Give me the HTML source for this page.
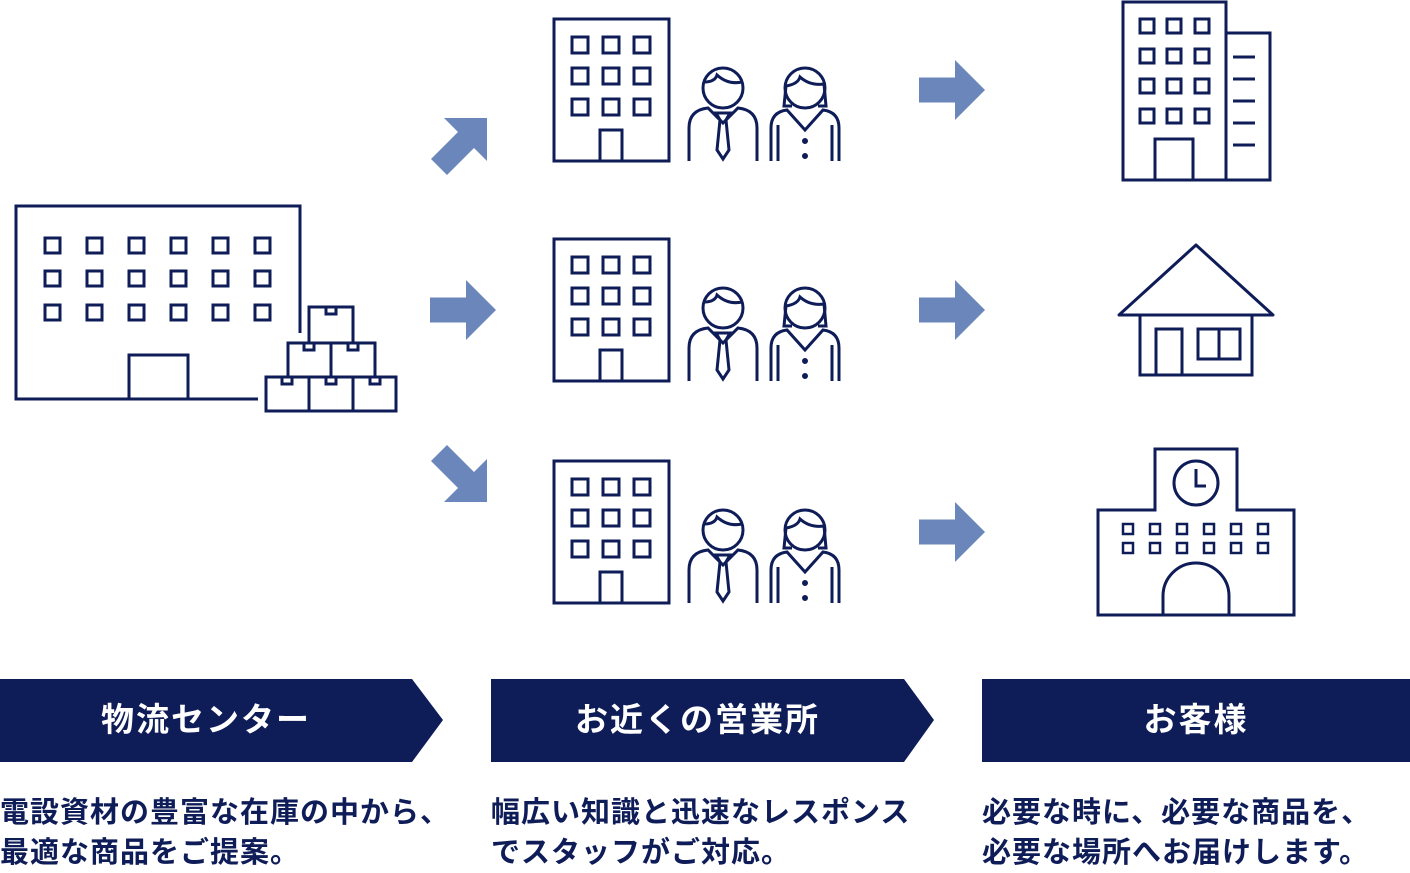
<!DOCTYPE html>
<html><head><meta charset="utf-8"><style>
html,body{margin:0;padding:0;background:#fff;}
body{width:1410px;height:868px;position:relative;overflow:hidden;font-family:"Liberation Sans","Noto Sans CJK JP",sans-serif;}
.cap{position:absolute;top:793px;font-size:29px;line-height:40px;color:#0e1c58;letter-spacing:1px;white-space:nowrap;font-weight:bold;}
.bt{position:absolute;top:698px;height:44px;line-height:44px;color:#fff;font-size:33px;text-align:center;letter-spacing:2px;font-weight:bold;}
</style></head><body>
<svg width="1410" height="868" style="position:absolute;left:0;top:0">
<defs>
<g id="office" fill="none" stroke="#0e1c58" stroke-width="3">
<rect x="554" y="19" width="115" height="142"/>
<rect x="572" y="37" width="16" height="16"/><rect x="603" y="37" width="16" height="16"/><rect x="634" y="37" width="16" height="16"/>
<rect x="572" y="68" width="16" height="16"/><rect x="603" y="68" width="16" height="16"/><rect x="634" y="68" width="16" height="16"/>
<rect x="572" y="99" width="16" height="16"/><rect x="603" y="99" width="16" height="16"/><rect x="634" y="99" width="16" height="16"/>
<rect x="600" y="130" width="22" height="31"/>
<circle cx="723" cy="88" r="20"/>
<path d="M704 82 Q715 82 717 75 Q728 85 742 82"/>
<path d="M689 161 V128 Q689 110 708 108 L723 123 L738 108 Q757 110 757 128 V161"/>
<path d="M716 113 H730 L726 120 L729 150 L723 159 L717 150 L720 120 Z"/>
<circle cx="805" cy="88" r="20"/>
<path d="M786 86 Q798 84 800 77 Q810 86 824 84 M786 86 L784 106 H792 M824 84 L826 106 H818"/>
<path d="M771 161 V128 Q771 112 787 110 L805 130 L823 110 Q839 112 839 128 V161"/>
<path d="M778 125 V161 M832 125 V161"/>
<circle cx="805" cy="141" r="1.5" fill="#0e1c58"/><circle cx="805" cy="156" r="1.5" fill="#0e1c58"/>
</g>
<polygon id="ar" points="0,-12.5 36,-12.5 36,-30 66,0 36,30 36,12.5 0,12.5" fill="#6a86ba"/>
</defs>
<g fill="none" stroke="#0e1c58" stroke-width="3">
<path d="M258 399 H16 V206 H300 V333"/>
<g>
<rect x="45" y="238" width="15" height="15"/><rect x="87" y="238" width="15" height="15"/><rect x="129" y="238" width="15" height="15"/><rect x="171" y="238" width="15" height="15"/><rect x="213" y="238" width="15" height="15"/><rect x="255" y="238" width="15" height="15"/>
<rect x="45" y="271" width="15" height="15"/><rect x="87" y="271" width="15" height="15"/><rect x="129" y="271" width="15" height="15"/><rect x="171" y="271" width="15" height="15"/><rect x="213" y="271" width="15" height="15"/><rect x="255" y="271" width="15" height="15"/>
<rect x="45" y="305" width="15" height="15"/><rect x="87" y="305" width="15" height="15"/><rect x="129" y="305" width="15" height="15"/><rect x="171" y="305" width="15" height="15"/><rect x="213" y="305" width="15" height="15"/><rect x="255" y="305" width="15" height="15"/>
</g>
<rect x="129" y="355" width="59" height="44"/>
<rect x="266" y="377" width="43" height="34"/><rect x="309" y="377" width="44" height="34"/><rect x="353" y="377" width="43" height="34"/>
<rect x="288" y="343" width="43" height="34"/><rect x="331" y="343" width="44" height="34"/>
<rect x="309" y="307" width="44" height="36"/>
<rect x="282" y="377" width="10" height="7"/><rect x="326" y="377" width="10" height="7"/><rect x="370" y="377" width="10" height="7"/>
<rect x="304" y="343" width="10" height="7"/><rect x="348" y="343" width="10" height="7"/>
<rect x="326" y="307" width="10" height="7"/>
</g>
<use href="#office"/>
<use href="#office" transform="translate(0,220)"/>
<use href="#office" transform="translate(0,442)"/>
<polygon points="444,118 487,118 487,161 474,148 447,175 431,159 458,132" fill="#6a86ba"/>
<polygon points="444,502 487,502 487,459 474,472 447,445 431,461 458,488" fill="#6a86ba"/>
<use href="#ar" transform="translate(430,310)"/>
<use href="#ar" transform="translate(919,90)"/>
<use href="#ar" transform="translate(919,310)"/>
<use href="#ar" transform="translate(919,532)"/>
<g fill="none" stroke="#0e1c58" stroke-width="3">
<rect x="1123" y="2" width="103" height="178"/>
<path d="M1226 33 H1270 V180 H1226 M1233 57 H1255 M1233 79 H1255 M1233 101 H1255 M1233 123 H1255 M1233 145 H1255"/>
<rect x="1140" y="19" width="14" height="14"/><rect x="1167" y="19" width="14" height="14"/><rect x="1195" y="19" width="14" height="14"/>
<rect x="1140" y="49" width="14" height="14"/><rect x="1167" y="49" width="14" height="14"/><rect x="1195" y="49" width="14" height="14"/>
<rect x="1140" y="79" width="14" height="14"/><rect x="1167" y="79" width="14" height="14"/><rect x="1195" y="79" width="14" height="14"/>
<rect x="1140" y="109" width="14" height="14"/><rect x="1167" y="109" width="14" height="14"/><rect x="1195" y="109" width="14" height="14"/>
<rect x="1155" y="139" width="38" height="41"/>
<path d="M1119 315 L1196 245 L1273 315 Z" stroke-linejoin="round"/>
<path d="M1140 315 V375 H1252 V315"/>
<rect x="1156" y="329" width="26" height="46"/>
<rect x="1198" y="329" width="42" height="30"/><path d="M1219 329 V359"/>
<path d="M1098 615 V510 H1155 V449 H1237 V510 H1294 V615 Z"/>
<circle cx="1196" cy="483" r="22"/><path d="M1196 469 V486 H1206"/>
<path d="M1163 615 V596 A33 33 0 0 1 1229 596 V615"/>
<g stroke-width="2.5">
<rect x="1123" y="524" width="10" height="10"/><rect x="1150" y="524" width="10" height="10"/><rect x="1177" y="524" width="10" height="10"/><rect x="1204" y="524" width="10" height="10"/><rect x="1231" y="524" width="10" height="10"/><rect x="1258" y="524" width="10" height="10"/>
<rect x="1123" y="543" width="10" height="10"/><rect x="1150" y="543" width="10" height="10"/><rect x="1177" y="543" width="10" height="10"/><rect x="1204" y="543" width="10" height="10"/><rect x="1231" y="543" width="10" height="10"/><rect x="1258" y="543" width="10" height="10"/>
</g>
</g>
<polygon points="0,679 412,679 443,720 412,762 0,762" fill="#0e1c58"/>
<polygon points="491,679 904,679 934,720 904,762 491,762" fill="#0e1c58"/>
<rect x="982" y="679" width="428" height="83" fill="#0e1c58"/>
</svg>
<div class="bt" style="left:0;width:412px">物流センター</div>
<div class="bt" style="left:491px;width:413px">お近くの営業所</div>
<div class="bt" style="left:982px;width:428px">お客様</div>
<div class="cap" style="left:0">電設資材の豊富な在庫の中から、<br>最適な商品をご提案。</div>
<div class="cap" style="left:491px">幅広い知識と迅速なレスポンス<br>でスタッフがご対応。</div>
<div class="cap" style="left:982px">必要な時に、必要な商品を、<br>必要な場所へお届けします。</div>
</body></html>
